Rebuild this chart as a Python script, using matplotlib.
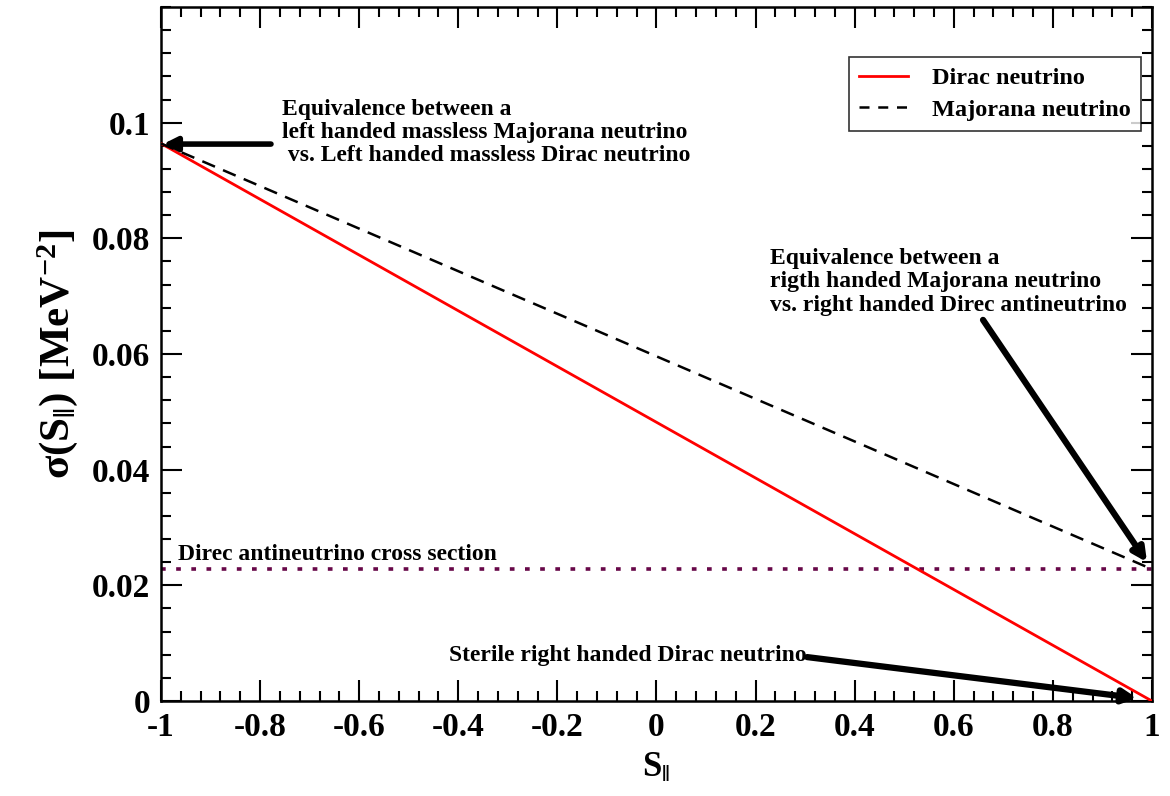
import matplotlib
matplotlib.use("Agg")
import matplotlib.pyplot as plt
from matplotlib.ticker import MultipleLocator

# ---- data ----
s_par = [-1.0, 1.0]
dirac_nu = [0.0964, 0.0]
majorana_nu = [0.0964, 0.0228]
dirac_antinu = [0.0228, 0.0228]

x_ticks = [-1, -0.8, -0.6, -0.4, -0.2, 0, 0.2, 0.4, 0.6, 0.8, 1]
x_tick_labels = ["-1", "-0.8", "-0.6", "-0.4", "-0.2", "0", "0.2", "0.4", "0.6", "0.8", "1"]
y_ticks = [0, 0.02, 0.04, 0.06, 0.08, 0.1]
y_tick_labels = ["0", "0.02", "0.04", "0.06", "0.08", "0.1"]

plt.rcParams['font.family'] = ['Liberation Serif', 'DejaVu Serif']
plt.rcParams['mathtext.fontset'] = 'custom'
plt.rcParams['mathtext.rm'] = 'Liberation Serif:bold'
plt.rcParams['mathtext.bf'] = 'Liberation Serif:bold'
plt.rcParams['mathtext.it'] = 'Liberation Serif:bold'
plt.rcParams['mathtext.sf'] = 'Liberation Serif:bold'
plt.rcParams['axes.unicode_minus'] = False

fig = plt.figure(figsize=(11.7, 7.96), dpi=100)
ax = fig.add_axes([0.1376, 0.1193, 0.8470, 0.8719])

maroon = '#670748'
ax.plot(s_par, dirac_nu, color='#ff0000', lw=2.0, label='Dirac neutrino', zorder=3)
ax.plot(s_par, majorana_nu, color='black', lw=1.8, dashes=(5.5, 3.5), label='Majorana neutrino', zorder=3)
ax.plot(s_par, dirac_antinu, color=maroon, lw=2.6, dashes=(1.3, 2.9), zorder=2)

ax.set_xlim(-1, 1)
ax.set_ylim(0, 0.12)
ax.set_xticks(x_ticks)
ax.set_xticklabels(x_tick_labels)
ax.set_yticks(y_ticks)
ax.set_yticklabels(y_tick_labels)
ax.xaxis.set_minor_locator(MultipleLocator(0.04))
ax.yaxis.set_minor_locator(MultipleLocator(0.004))

for lab in ax.get_xticklabels() + ax.get_yticklabels():
    lab.set_fontweight('bold')
    lab.set_fontsize(24)

ax.tick_params(which='both', direction='in', top=True, right=True, width=1.5)
ax.tick_params(which='major', length=15, pad=8)
ax.tick_params(which='minor', length=7.5)
for sp in ax.spines.values():
    sp.set_linewidth(1.8)

ax.set_xlabel(r'S$_{\|}$', fontsize=25, fontweight='bold', labelpad=6)
ax.set_ylabel(r'σ(S$_{\|}$) [MeV$^{-2}$]', fontsize=31, fontweight='bold', labelpad=8)

leg = ax.legend(loc='upper right', bbox_to_anchor=(0.9885, 0.9275),
                prop={'weight': 'bold', 'size': 17.5},
                frameon=True, fancybox=False, edgecolor='black', handlelength=2.0,
                handletextpad=1.0, borderpad=0.4, labelspacing=0.4, borderaxespad=0)
leg.get_frame().set_linewidth(1.2)
leg.get_lines()[1].set_dashes((4.0, 3.5))

txt_kw = dict(fontsize=17, fontweight='bold', color='black', linespacing=1.15)

ax.text(-0.756, 0.0983,
        "Equivalence between a\nleft handed massless Majorana neutrino\n vs. Left handed massless Dirac neutrino",
        ha='left', va='center', **txt_kw)
ax.annotate("", xy=(-0.996, 0.0963), xytext=(-0.778, 0.0963),
            arrowprops=dict(arrowstyle='-|>', lw=4, color='black', mutation_scale=20,
                            shrinkA=0, shrinkB=0))

ax.text(0.23, 0.0725, "Equivalence between a\nrigth handed Majorana neutrino\nvs. right handed Direc antineutrino",
        ha='left', va='center', **txt_kw)
ax.annotate("", xy=(0.99, 0.0240), xytext=(0.659, 0.0659),
            arrowprops=dict(arrowstyle='-|>', lw=4.5, color='black', mutation_scale=20,
                            shrinkA=0, shrinkB=0))

ax.text(-0.966, 0.0253, "Direc antineutrino cross section", ha='left', va='center', **txt_kw)

ax.text(0.304, 0.0079, "Sterile right handed Dirac neutrino", ha='right', va='center', **txt_kw)
ax.annotate("", xy=(0.970, 0.0005), xytext=(0.304, 0.0076),
            arrowprops=dict(arrowstyle='-|>', lw=4.5, color='black', mutation_scale=20,
                            shrinkA=0, shrinkB=0))

fig.savefig('out.png', dpi=100)
